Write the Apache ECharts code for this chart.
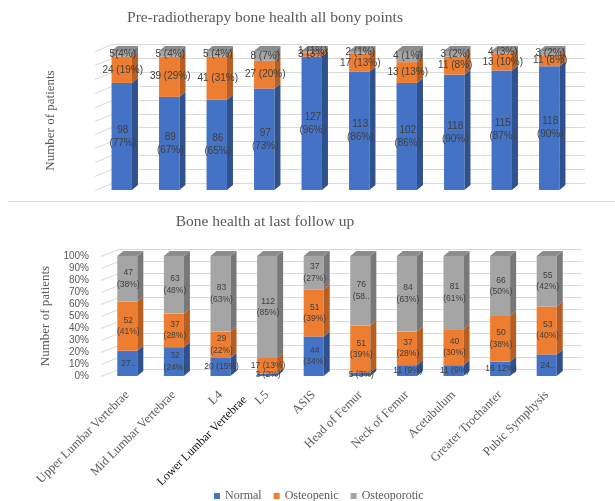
<!DOCTYPE html>
<html><head><meta charset="utf-8">
<script src="https://cdn.jsdelivr.net/npm/echarts@6/dist/echarts.min.js"></script>
<style>html,body{margin:0;padding:0;background:#fff}#chart{width:615px;height:501px}</style>
</head><body><div id="chart"></div>
<script>
// ---------- data ----------
const categories = ['Upper Lumbar Vertebrae', 'Mid Lumbar Vertebrae', 'L4', 'L5', 'ASIS',
  'Head of Femur', 'Neck of Femur', 'Acetabulum', 'Greater Trochanter', 'Pubic Symphysis'];
const extraAxisLabel = 'Lower Lumbar Vertebrae';
const percentTicks = [0, 10, 20, 30, 40, 50, 60, 70, 80, 90, 100];
const seriesNames = ['Normal', 'Osteopenic', 'Osteoporotic'];

// Pre-radiotherapy (share of bar, %)
const preNormal = [77, 67, 65, 73, 96, 85, 77, 83, 86, 89];
const preOsteopenic = [19, 29, 31, 20, 3, 13, 15, 13, 12, 8];
const preOsteoporotic = [4, 4, 4, 7, 1, 2, 8, 4, 2, 3];
const preNormalLabels = ['98\n(77%)', '89\n(67%)', '86\n(65%)', '97\n(73%)', '127\n(96%)', '113\n(86%)', '102\n(86%)', '118\n(90%)', '115\n(87%)', '118\n(90%)'];
const preOsteopenicLabels = ['24 (19%)', '39 (29%)', '41 (31%)', '27 (20%)', '3 (3%)', '17 (13%)', '13 (13%)', '11 (8%)', '13 (10%)', '11 (8%)'];
const preOsteoporoticLabels = ['5(4%)', '5 (4%)', '5 (4%)', '8 (7%)', '1 (1%)', '2 (1%)', '4 (1%)', '3 (2%)', '4 (3%)', '3 (2%)'];

// Last follow up (share of bar, %)
const fuNormal = [21, 24, 15, 2, 33, 3, 9, 9, 12, 18];
const fuOsteopenic = [41, 28, 22, 13, 39, 39, 28, 30, 38, 40];
const fuOsteoporotic = [38, 48, 63, 85, 28, 58, 63, 61, 50, 42];
const fuNormalLabels = ['27..', '32\n(24%)', '20 (15%)', '3 (2%)', '44\n(34%)', '5 (3%)', '11 (9%)', '11 (9%)', '16 12%)', '24..'];
const fuOsteopenicLabels = ['52\n(41%)', '37\n(28%)', '29\n(22%)', '17 (13%)', '51\n(39%)', '51\n(39%)', '37\n(28%)', '40\n(30%)', '50\n(38%)', '53\n(40%)'];
const fuOsteoporoticLabels = ['47\n(38%)', '63\n(48%)', '83\n(63%)', '112\n(85%)', '37\n(27%)', '76\n(58..', '84\n(63%)', '81\n(61%)', '66\n(50%)', '55\n(42%)'];

// ---------- styling ----------
const SERIF = '"Liberation Serif", "Times New Roman", serif';
const SANS = '"Liberation Sans", Arial, sans-serif';
const GREY_TEXT = '#595959';
const colors = {
  Normal: { front: '#4472C4', side: '#2F528F', top: '#3A62AA' },
  Osteopenic: { front: '#ED7D31', side: '#B85E22', top: '#D06B27' },
  Osteoporotic: { front: '#A5A5A5', side: '#787878', top: '#8C8C8C' }
};
const BAR_RATIO = 0.43;
const DX = 6, DY = -5;

function barSeries(name, g, bases, values, labels, isTop, fontSize, lineHeight) {
  const data = values.map((v, i) => [i, bases[i], bases[i] + v]);
  return {
    type: 'custom', name: name, xAxisIndex: g, yAxisIndex: g, z: 3,
    itemStyle: { color: colors[name].front },
    encode: { x: 0, y: [1, 2] },
    data: data,
    renderItem: function (params, api) {
      const i = api.value(0);
      const b = api.coord([i, api.value(1)]);
      const t = api.coord([i, api.value(2)]);
      const bw = api.size([1, 0])[0] * BAR_RATIO;
      const x0 = b[0] - bw / 2, x1 = b[0] + bw / 2;
      const yb = b[1], yt = t[1];
      const c = colors[name];
      const children = [
        { type: 'rect', shape: { x: x0, y: yt, width: bw, height: yb - yt }, style: { fill: c.front } },
        { type: 'polygon', shape: { points: [[x1, yb], [x1 + DX, yb + DY], [x1 + DX, yt + DY], [x1, yt]] }, style: { fill: c.side } }
      ];
      if (isTop) {
        children.push({ type: 'polygon', shape: { points: [[x0, yt], [x0 + DX, yt + DY], [x1 + DX, yt + DY], [x1, yt]] }, style: { fill: c.top } });
      }
      children.push({
        type: 'text', z2: 100, x: b[0] + 1, y: (yb + yt) / 2,
        style: { text: labels[params.dataIndex], fill: '#404040', fontSize: fontSize, fontFamily: SANS,
          align: 'center', verticalAlign: 'middle', lineHeight: lineHeight }
      });
      return { type: 'group', children: children };
    }
  };
}

function wallSeries(g, dx, dy, extraRight) {
  return {
    type: 'custom', xAxisIndex: g, yAxisIndex: g, z: 1, silent: true,
    data: percentTicks.map(v => [0, v]),
    encode: { x: 0, y: 1 },
    renderItem: function (params, api) {
      const cs = params.coordSys;
      const y = Math.round(api.coord([0, api.value(1)])[1]) + 0.5;
      return { type: 'group', children: [
        { type: 'line', shape: { x1: cs.x - 3, y1: y, x2: cs.x + dx, y2: y + dy }, style: { stroke: '#D9D9D9', lineWidth: 1 } },
        { type: 'line', shape: { x1: cs.x + dx, y1: y + dy, x2: cs.x + cs.width + extraRight, y2: y + dy }, style: { stroke: '#D9D9D9', lineWidth: 1 } }
      ] };
    }
  };
}

function stackSeries(g, a, b, c, la, lb, lc, fs, lh) {
  const zero = a.map(() => 0);
  const ab = a.map((v, i) => v + b[i]);
  return [
    barSeries('Normal', g, zero, a, la, false, fs, lh),
    barSeries('Osteopenic', g, a, b, lb, false, fs, lh),
    barSeries('Osteoporotic', g, ab, c, lc, true, fs, lh)
  ];
}

const chart = echarts.init(document.getElementById('chart'));
const option = {
  animation: false,
  backgroundColor: '#ffffff',
  title: [
    { text: 'Pre-radiotherapy bone health all bony points', left: 265, top: 10, textAlign: 'center', padding: 0,
      textStyle: { fontFamily: SERIF, fontSize: 15.5, fontWeight: 'normal', color: GREY_TEXT } },
    { text: 'Bone health at last follow up', left: 265, top: 214, textAlign: 'center', padding: 0,
      textStyle: { fontFamily: SERIF, fontSize: 15.5, fontWeight: 'normal', color: GREY_TEXT } }
  ],
  legend: {
    data: seriesNames, left: 209, top: 485, icon: 'rect', itemWidth: 6, itemHeight: 6, itemGap: 12,
    textStyle: { fontFamily: SERIF, fontSize: 12, color: GREY_TEXT }
  },
  grid: [
    { left: 98, top: 51, width: 475, height: 139 },
    { left: 104, top: 256, width: 466, height: 120 }
  ],
  xAxis: [
    { type: 'category', gridIndex: 0, data: categories, axisLine: { show: false }, axisTick: { show: false }, axisLabel: { show: false } },
    { type: 'category', gridIndex: 1, data: categories, axisLine: { show: false }, axisTick: { show: false },
      axisLabel: { rotate: 45, margin: 17, interval: 0, fontFamily: SERIF, fontSize: 12.5, color: GREY_TEXT } }
  ],
  yAxis: [
    { type: 'value', gridIndex: 0, min: 0, max: 100, interval: 10, axisLabel: { show: false }, splitLine: { show: false },
      axisLine: { show: false }, axisTick: { show: false },
      name: 'Number of patients', nameLocation: 'middle', nameGap: 41,
      nameTextStyle: { fontFamily: SERIF, fontSize: 13, color: GREY_TEXT } },
    { type: 'value', gridIndex: 1, min: 0, max: 100, interval: 10, splitLine: { show: false },
      axisLine: { show: false }, axisTick: { show: false },
      axisLabel: { formatter: '{value}%', margin: 15, fontFamily: SANS, fontSize: 10, color: GREY_TEXT },
      name: 'Number of patients', nameLocation: 'middle', nameGap: 47,
      nameTextStyle: { fontFamily: SERIF, fontSize: 13, color: GREY_TEXT } }
  ],
  graphic: [
    { type: 'line', shape: { x1: 8, y1: 201.5, x2: 615, y2: 201.5 }, style: { stroke: '#E0E0E0', lineWidth: 1 } },
    { type: 'text', x: 245, y: 398, rotation: Math.PI / 4,
      style: { text: extraAxisLabel, fill: '#111111', fontFamily: SERIF, fontSize: 12, align: 'right', verticalAlign: 'middle' } }
  ],
  series: [
    wallSeries(0, 14, -7, 12),
    wallSeries(1, 15, -7, 12)
  ].concat(
    stackSeries(0, preNormal, preOsteopenic, preOsteoporotic, preNormalLabels, preOsteopenicLabels, preOsteoporoticLabels, 10, 13),
    stackSeries(1, fuNormal, fuOsteopenic, fuOsteoporotic, fuNormalLabels, fuOsteopenicLabels, fuOsteoporoticLabels, 8.5, 11.5)
  )
};
chart.setOption(option);
</script>
</body></html>
